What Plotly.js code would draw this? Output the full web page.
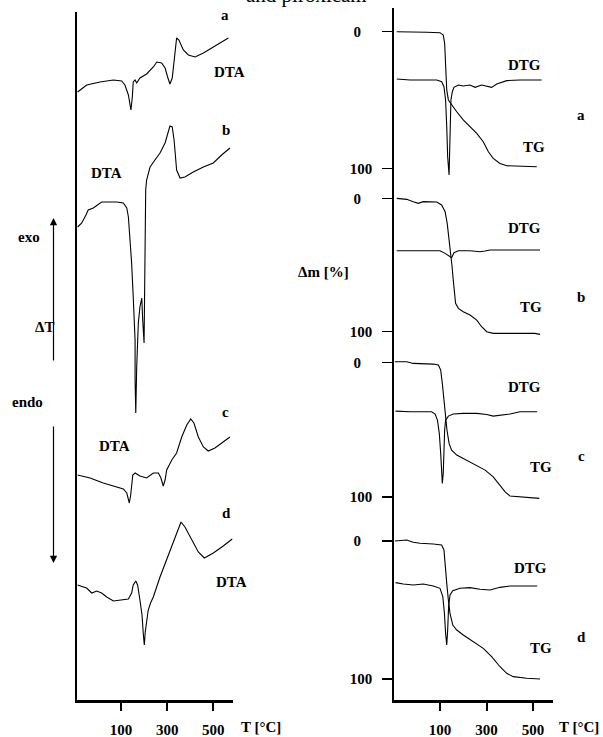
<!DOCTYPE html>
<html><head><meta charset="utf-8">
<script src="https://cdn.plot.ly/plotly-3.0.1.min.js"></script>
<style>html,body{margin:0;padding:0;background:#fff}#chart{width:603px;height:737px}</style>
</head><body><div id="chart"></div>
<script>
// ---------- DATA ----------
var tickVals = [100, 300, 500];
var tickText = ['100', '300', '500'];
var massTickVals = [0, 100];
var massTickText = ['0\u00a0\u00a0\u00a0', '100'];

// DTA curves (temperature °C, arbitrary ΔT units)
var dtaA_T = [-88,-49,9,67,103,117,132,143,149,153,161,168,182,211,240,255,276,291,302,312,322,334,341,351,370,392,421,457,500,536,565];
var dtaA_v = [608,615,618,620,619,615,605,590,603,618,620,617,622,626,633,638,637,632,623,616,622,645,662,660,650,645,643,647,653,658,662];
var dtaB_T = [-88,-70,-52,-42,-20,16,81,110,125,132,139,146,153,161,161,164,168,175,182,190,194,200,201,203,205,207,211,226,247,269,291,305,312,322,330,341,356,377,413,457,500,536,572];
var dtaB_v = [473,477,485,490,492,498,498,497,492,483,460,437,403,360,320,287,333,377,393,402,380,357,380,420,480,510,520,533,540,547,557,568,574,573,560,530,522,523,528,533,537,545,552];
var dtaC_T = [-88,-34,23,81,110,125,136,142,151,161,182,211,240,262,273,283,291,298,320,341,363,385,402,416,435,457,478,507,536,572];
var dtaC_v = [225,222,217,213,211,207,197,205,225,227,224,222,227,227,222,214,220,230,240,247,263,275,281,277,263,253,249,252,257,263];
var dtaD_T = [-88,-49,-27,-5,16,38,67,103,132,146,153,164,172,182,191,197,201,205,211,218,228,240,269,298,320,341,360,377,406,435,461,500,543,582];
var dtaD_v = [115,112,107,109,107,103,99,100,101,107,115,119,115,100,85,65,55,68,80,90,97,103,123,140,153,167,178,173,160,148,142,147,154,161];

// TG (mass loss %) and DTG curves
var tgA_T = [-86,0,43,100,114,120,123,129,136,150,172,200,229,258,286,308,329,358,387,444,516];
var tgA_m = [0.3,0.3,0.7,1,2.7,8.8,25.8,42.8,50.1,53.8,58.7,64.7,69.6,74.5,80.6,87.9,92.7,96.4,98.1,98.3,98.8];
var dtgA_T = [-86,-29,86,107,117,124,129,133,139,142,144,147,153,160,179,200,229,251,279,301,322,344,387,444,537];
var dtgA_v = [34.8,35.5,35.5,36.8,40.4,50.1,69.6,91.5,104.9,81.8,59.9,50.1,44.1,40.9,39.2,39.9,39.2,40.9,39.2,39.9,40.9,38.5,36.0,35.5,35.5];

var tgB_T = [-86,-43,-15,7,28,86,107,122,131,140,146,152,157,162,167,179,200,229,258,279,301,329,430,508,530];
var tgB_m = [0,0.75,2.5,3.75,2.5,2.75,5,10,18.75,31.25,43.75,51.25,61.25,71.25,78.75,82.5,85,87.5,91.25,96.25,100,101.25,101.25,101.25,102];
var dtgB_T = [-86,100,122,143,150,160,179,229,272,294,315,530];
var dtgB_v = [39.25,39.25,41.25,43.75,44.5,40.75,39.25,39.25,40,39.5,38.75,38.75];

var tgC_T = [-94,-43,-15,71,93,103,110,117,124,130,139,150,172,200,243,294,329,358,380,401,444,501,527];
var tgC_m = [-0.7,-0.7,0.5,1,1.7,5.5,15.4,27.9,40.3,50.2,60.2,65.2,68.9,71.4,75.1,80.1,85.1,91.3,96.3,99.5,100,100.5,101.2];
var dtgC_T = [-91,-29,64,79,89,97,103,107,110,114,117,120,124,136,157,200,258,301,329,358,401,444,518];
var dtgC_v = [36.1,36.6,36.6,38.3,42.8,52.7,67.7,82.6,90,82.6,62.7,50.2,42.8,39.8,38.3,37.8,37.8,38.6,39.8,39.3,38.3,36.6,36.6];

var tgD_T = [-94,-43,-15,14,71,107,117,123,129,136,143,155,172,200,243,286,322,358,387,415,473,530];
var tgD_m = [0,-0.7,1,1.7,2.2,2.9,6.5,16.2,30.7,42.8,52.4,60.9,64.5,68.1,73,77.8,83.8,91.1,95.9,98.3,99.5,100];
var dtgD_T = [-91,-58,-15,28,71,100,112,119,124,129,133,137,143,155,186,229,272,315,358,401,518];
var dtgD_v = [30.2,31.2,31.9,31.2,32.6,34.3,40.3,52.4,66.9,75.4,64.5,47.6,39.1,36,34.3,33.8,35,35.5,33.6,32.6,32.6];

// ---------- CHART ----------
var W = 603, H = 737;
var FONT = '"Liberation Serif", "Times New Roman", serif';
function px(x){ return x / W; }
function py(y){ return 1 - y / H; }

function line(x, y, xa, ya){
  return {x: x, y: y, xaxis: xa, yaxis: ya, type: 'scatter', mode: 'lines',
          line: {color: '#000', width: 1.1}, hoverinfo: 'skip', showlegend: false};
}

var data = [
  line(dtaA_T, dtaA_v, 'x', 'y'),
  line(dtaB_T, dtaB_v, 'x', 'y'),
  line(dtaC_T, dtaC_v, 'x', 'y'),
  line(dtaD_T, dtaD_v, 'x', 'y'),
  line(tgA_T, tgA_m, 'x2', 'y2'),
  line(dtgA_T, dtgA_v, 'x2', 'y2'),
  line(tgB_T, tgB_m, 'x2', 'y3'),
  line(dtgB_T, dtgB_v, 'x2', 'y3'),
  line(tgC_T, tgC_m, 'x2', 'y4'),
  line(dtgC_T, dtgC_v, 'x2', 'y4'),
  line(tgD_T, tgD_m, 'x2', 'y5'),
  line(dtgD_T, dtgD_v, 'x2', 'y5')
];

var tickFont = {family: FONT, size: 15, color: '#000', weight: 'bold'};

function xAxis(domain, range, anchor){
  return {domain: domain, range: range, anchor: anchor, showgrid: false, zeroline: false,
          showline: true, linewidth: 2.5, linecolor: '#000',
          tickmode: 'array', tickvals: tickVals, ticktext: tickText,
          ticks: 'outside', ticklen: 8, tickwidth: 2, tickcolor: '#000',
          tickfont: tickFont, ticklabelstandoff: 6, fixedrange: true};
}
function massAxis(domain, range){
  return {domain: domain, range: range, anchor: 'x2', showgrid: false, zeroline: false,
          showline: true, linewidth: 2, linecolor: '#000',
          tickmode: 'array', tickvals: massTickVals, ticktext: massTickText,
          ticks: 'outside', ticklen: 10, tickwidth: 1.5, tickcolor: '#000',
          tickfont: tickFont, ticklabelstandoff: 7, fixedrange: true};
}

var layout = {
  width: W, height: H, margin: {l: 0, r: 0, t: 0, b: 0},
  paper_bgcolor: '#fff', plot_bgcolor: 'rgba(0,0,0,0)',
  showlegend: false,
  xaxis: xAxis([px(77), px(233.3)], [-90.7, 586.6], 'y'),
  yaxis: {domain: [py(700), py(12)], range: [0, 688], anchor: 'x', showgrid: false, zeroline: false,
          showline: true, linewidth: 2.5, linecolor: '#000', showticklabels: false, ticks: '', fixedrange: true},
  xaxis2: xAxis([px(394.3), px(553.3)], [-96.5, 587.2], 'y5'),
  yaxis2: massAxis([py(183), py(8)], [110.7, -17.0]),
  yaxis3: massAxis([py(348), py(183)], [112.2, -11.5]),
  yaxis4: massAxis([py(519), py(348)], [116.6, -11.0]),
  yaxis5: massAxis([py(700), py(519)], [115.2, -15.9]),
  annotations: []
};

function lab(text, x, y, opts){
  var a = {text: text, x: px(x), y: py(y), xref: 'paper', yref: 'paper',
           xanchor: 'center', yanchor: 'middle', showarrow: false,
           font: {family: FONT, size: 15, color: '#000', weight: 'bold'}};
  for (var k in (opts || {})) a[k] = opts[k];
  layout.annotations.push(a);
}
// left panel labels
lab('a', 225, 15); lab('DTA', 229, 72);
lab('b', 226, 130); lab('DTA', 106, 173);
lab('c', 225, 412); lab('DTA', 114, 446);
lab('d', 226, 513); lab('DTA', 231, 582);
lab('exo', 29, 237); lab('ΔT', 44, 327); lab('endo', 28, 402);
lab('T [°C]', 261, 727);
// right panel labels
lab('DTG', 524, 65); lab('TG', 534, 147); lab('a', 581, 115);
lab('DTG', 524, 228); lab('TG', 531, 307); lab('b', 581, 297);
lab('DTG', 524, 387); lab('TG', 541, 467); lab('c', 581, 456);
lab('DTG', 530, 568); lab('TG', 541, 648); lab('d', 581, 637);
lab('Δm [%]', 323, 272);
lab('T [°C]', 579, 727);
// cut-off title (cut at the top edge as in the reference)
lab('and piroxicam', 306, 9, {yanchor: 'bottom', font: {family: FONT, size: 21, color: '#000'}});
// exo / endo arrows
layout.annotations.push({x: px(53.5), y: py(218), xref: 'paper', yref: 'paper', text: '',
  showarrow: true, ax: 0, ay: 144, arrowhead: 2, arrowsize: 1.2, arrowwidth: 1.2, arrowcolor: '#000'});
layout.annotations.push({x: px(53.5), y: py(563), xref: 'paper', yref: 'paper', text: '',
  showarrow: true, ax: 0, ay: -138, arrowhead: 2, arrowsize: 1.2, arrowwidth: 1.2, arrowcolor: '#000'});

Plotly.newPlot('chart', data, layout, {staticPlot: true, displayModeBar: false});
</script>
</body></html>
